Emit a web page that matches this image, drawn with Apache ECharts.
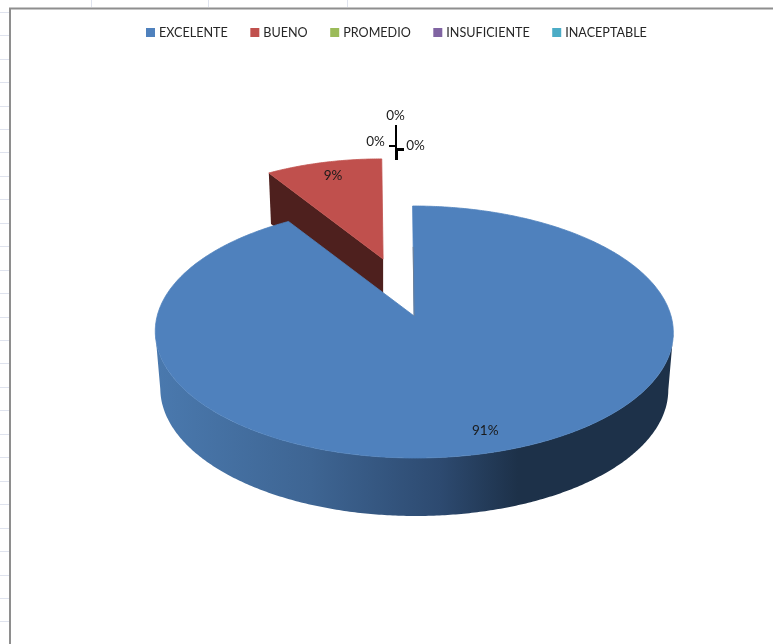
<!DOCTYPE html>
<html>
<head>
<meta charset="utf-8">
<style>
  html, body { margin: 0; padding: 0; background: #ffffff; }
  #chart { width: 773px; height: 644px; }
</style>
<script src="https://cdn.jsdelivr.net/npm/echarts@6/dist/echarts.min.js"></script>
</head>
<body>
<div id="chart"></div>
<script>
// Survey answers per rating
const categories = ['EXCELENTE', 'BUENO', 'PROMEDIO', 'INSUFICIENTE', 'INACEPTABLE'];
const shares = [91, 9, 0, 0, 0];
const colors = ['#4f81bd', '#c0504d', '#9bbb59', '#8064a2', '#4bacc6'];

// Tilted-disc geometry of the 3D pie
const disc = { cx: 415.6, topY: 332, bottomY: 389, rx: 259, rxBottom: 254, ry: 126, ryBottom: 127, tilt: -0.127, shear: 3 };
const pull = { BUENO: { dx: -31, dy: -57, scale: 0.91 } };
const labelRadius = 0.85;

// Label and leader placement for the empty slices
const leaders = {
  PROMEDIO: { label: [375.5, 142], path: [[389, 146], [396, 146], [396, 160]], width: 2 },
  INSUFICIENTE: { label: [395.5, 116], path: [[396, 125], [396, 160]], width: 2 },
  INACEPTABLE: { label: [415.5, 146], path: [[404, 149.5], [396.5, 149.5], [396.5, 160]], width: 3 }
};

const labelFont = '13.5px Lato, "Open Sans", sans-serif';
const total = shares.reduce((a, b) => a + b, 0);

// Share value -> start/end angle, clockwise from the top of the disc
function sliceAngles(index) {
  const before = shares.slice(0, index).reduce((a, b) => a + b, 0);
  return [before / total * 2 * Math.PI, (before + shares[index]) / total * 2 * Math.PI];
}

// Projects a point of the unit disc (radius r, angle a) to the page; level 0 is the top face, 1 the base.
function project(a, r, level) {
  const k = disc.tilt;
  const u = Math.sin(a) * r;
  const v = -Math.cos(a) * r;
  const d = 1 + k * v;
  const rx = level ? disc.rxBottom : disc.rx;
  const ry = level ? disc.ryBottom : disc.ry;
  const cy = level ? disc.bottomY : disc.topY;
  const sx = -disc.shear * (1 - v) / 2;
  return [disc.cx + sx + rx * u * Math.sqrt(1 - k * k) / d, cy + ry * (v + k) / d];
}

// Applies the explode offset of a pulled-out slice
function placer(name) {
  const p = pull[name];
  if (!p) return pt => pt;
  const origin = project(0, 0, 0);
  return pt => [
    origin[0] + p.dx + (pt[0] - origin[0]) * p.scale,
    origin[1] + p.dy + (pt[1] - origin[1]) * p.scale
  ];
}

function rimPoints(a0, a1, level, place) {
  const pts = [];
  const steps = Math.max(8, Math.ceil((a1 - a0) / 0.01));
  for (let i = 0; i <= steps; i++) pts.push(place(project(a0 + (a1 - a0) * i / steps, 1, level)));
  return pts;
}

function percentText(v) {
  return Math.round(v / total * 100) + '%';
}

const sideGradient = new echarts.graphic.LinearGradient(0, 0, 1, 0, [
  { offset: 0, color: '#4a79ae' },
  { offset: 0.3, color: '#3e6593' },
  { offset: 0.55, color: '#2d4a70' },
  { offset: 0.7, color: '#1d3149' },
  { offset: 1, color: '#1d3149' }
]);

function drawSlice(index) {
  return function (params, api) {
    const name = categories[index];
    const value = api.value(0);
    const children = [];
    if (value === 0) {
      const lead = leaders[name];
      children.push({
        type: 'polyline',
        shape: { points: lead.path },
        style: { stroke: '#000000', lineWidth: lead.width, fill: null }
      });
      children.push({
        type: 'text',
        style: { text: percentText(value), x: lead.label[0], y: lead.label[1], align: 'center', verticalAlign: 'middle', font: labelFont, fill: '#1a1a1a' }
      });
      return { type: 'group', children };
    }
    const [a0, a1] = sliceAngles(index);
    const place = placer(name);
    const apexTop = place(project(0, 0, 0));
    const apexBase = place(project(0, 0, 1));

    if (pull[name]) {
      // Cut face seen through the gap left by the pulled-out slice
      const rimTop = place(project(a0, 1, 0));
      const rimBase = place(project(a0, 1, 1));
      children.push({
        type: 'polygon',
        shape: { points: [apexTop, rimTop, rimBase, apexBase] },
        style: { fill: '#4e201e' }
      });
    } else {
      // Outer wall: the part of the rim that faces the viewer
      const front = [];
      const steps = 600;
      for (let i = 0; i <= steps; i++) {
        const a = a0 + (a1 - a0) * i / steps;
        if (project(a, 1, 0)[1] >= disc.topY) front.push(a);
      }
      const topRim = front.map(a => place(project(a, 1, 0)));
      const baseRim = front.map(a => place(project(a, 1, 1))).reverse();
      children.push({
        type: 'polygon',
        shape: { points: topRim.concat(baseRim) },
        style: { fill: sideGradient }
      });
    }

    // A hairline in the face colour closes the seam against the wall below it
    children.push({
      type: 'polygon',
      shape: { points: [apexTop].concat(rimPoints(a0, a1, 0, place)) },
      style: { fill: colors[index], stroke: colors[index], lineWidth: 0.8 }
    });

    if (!pull[name]) {
      // Thin shaded sliver along the first cut edge
      const edge = place(project(a0, 0.6, 0));
      children.push({
        type: 'line',
        shape: { x1: apexTop[0], y1: apexTop[1], x2: edge[0], y2: edge[1] },
        style: { stroke: '#6b7f98', lineWidth: 1 }
      });
    }

    const mid = (a0 + a1) / 2;
    const rim = place(project(mid, 1, 0));
    children.push({
      type: 'text',
      style: {
        text: percentText(value),
        x: apexTop[0] + (rim[0] - apexTop[0]) * labelRadius + 0.5,
        y: apexTop[1] + (rim[1] - apexTop[1]) * labelRadius - 1,
        align: 'center',
        verticalAlign: 'middle',
        font: labelFont,
        fill: '#1a1a1a'
      }
    });
    return { type: 'group', children };
  };
}

// Worksheet behind the chart: cell lines in the margins and the chart frame
const sheet = [];
for (let i = 0; i < 27; i++) {
  const y = Math.round(11.7 + i * 23.45);
  sheet.push({ type: 'line', shape: { x1: 0, y1: y + 0.5, x2: 9, y2: y + 0.5 }, style: { stroke: '#dfe3ee', lineWidth: 1 }, silent: true });
}
[91, 208, 347].forEach(x => {
  sheet.push({ type: 'line', shape: { x1: x + 0.5, y1: 0, x2: x + 0.5, y2: 7 }, style: { stroke: '#dfe3ee', lineWidth: 1 }, silent: true });
});
sheet.push({ type: 'polyline', shape: { points: [[10, 644], [10, 8.5], [773, 8.5]] }, style: { stroke: '#8e8e8e', lineWidth: 2, fill: null }, silent: true });

const chart = echarts.init(document.getElementById('chart'), null, { renderer: 'canvas' });
chart.setOption({
  animation: false,
  backgroundColor: '#ffffff',
  color: colors,
  legend: {
    data: categories,
    top: 21,
    left: 141,
    icon: 'rect',
    itemWidth: 9,
    itemHeight: 9,
    itemGap: 22.5,
    textStyle: { fontFamily: 'Lato, "Open Sans", sans-serif', fontSize: 12.6, color: '#262626', padding: [0, 0, 0, -1] }
  },
  graphic: { elements: sheet },
  series: categories.map((name, i) => ({
    type: 'custom',
    name,
    coordinateSystem: 'none',
    z: i === 0 ? 3 : (i === 1 ? 2 : 4),
    itemStyle: { color: colors[i] },
    data: [[shares[i]]],
    renderItem: drawSlice(i)
  }))
});
</script>
</body>
</html>
